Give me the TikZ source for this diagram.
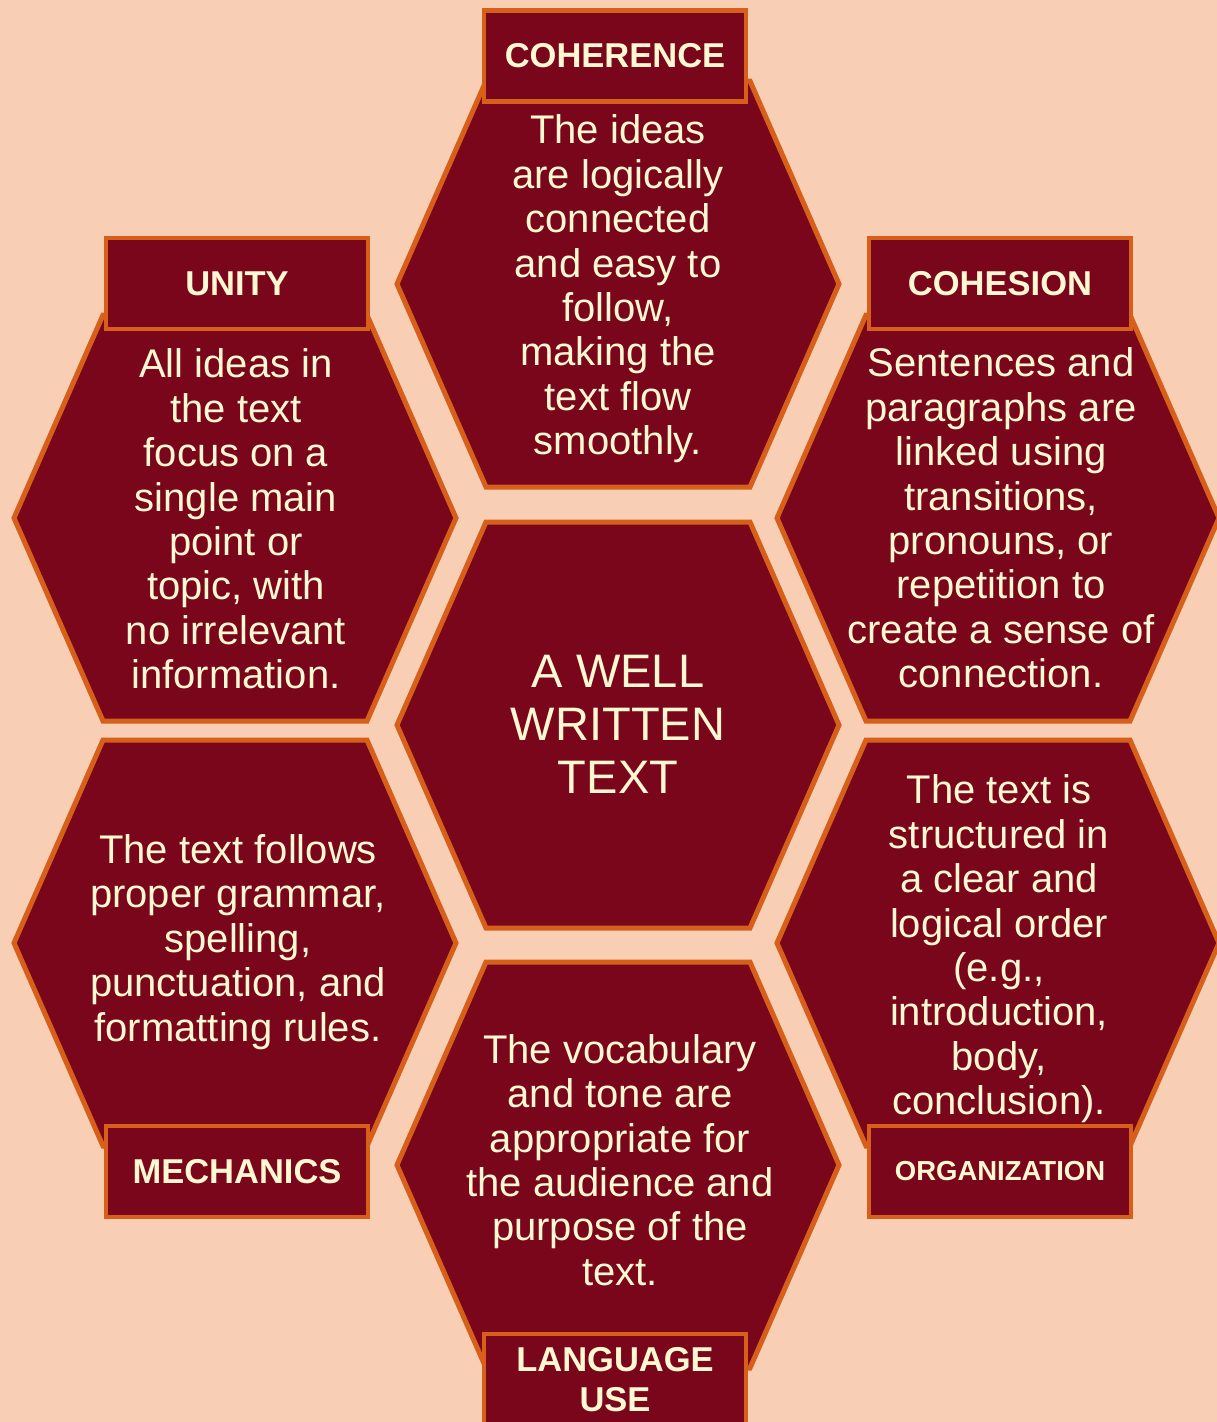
\documentclass[tikz,border=0pt]{standalone}
\usepackage{fontspec}
\setmainfont{Liberation Sans}
\definecolor{peach}{HTML}{F8CEB4}
\definecolor{wine}{HTML}{79061A}
\definecolor{rust}{HTML}{D6601A}
\definecolor{cream}{HTML}{FFF8D2}
\tikzset{
  cell/.style={fill=wine, draw=rust, line width=5pt},
  body/.style={text=cream, align=center, inner sep=0pt,
    font=\fontsize{40}{44.4}\selectfont},
  tag/.style={fill=wine, draw=rust, line width=4.5pt, text=cream,
    minimum width=262pt, minimum height=91pt, inner sep=0pt, align=center,
    font=\bfseries\fontsize{34.5}{40}\selectfont},
}
\begin{document}
\begin{tikzpicture}[x=1pt, y=-1pt]
  \fill[peach] (0,0) rectangle (1217,1422);
  \useasboundingbox (0,0) rectangle (1217,1422);
  % hexagon cells
  \foreach \cx/\cy in {618/284, 235/518, 998/518, 618/725, 235/943, 998/943, 618/1165}
    \draw[cell] (\cx-221,\cy) -- (\cx-132,\cy-203) -- (\cx+132,\cy-203)
      -- (\cx+221,\cy) -- (\cx+132,\cy+203) -- (\cx-132,\cy+203) -- cycle;
  \draw
    (618,289) node[body] (coherence) {The ideas\\are logically\\connected\\and easy to\\follow,\\making the\\text flow\\smoothly.}
    (236,519) node[body] (unity) {All ideas in\\the text\\focus on a\\single main\\point or\\topic, with\\no irrelevant\\information.}
    (1001,518) node[body] (cohesion) {Sentences and\\paragraphs are\\linked using\\transitions,\\pronouns, or\\repetition to\\create a sense of\\connection.}
    (618,724) node[body, font=\fontsize{47}{53}\selectfont] (center) {A WELL\\WRITTEN\\TEXT}
    (238,942) node[body] (mechanics) {The text follows\\proper grammar,\\spelling,\\punctuation, and\\formatting rules.}
    (999,949) node[body] (organization) {The text is\\structured in\\a clear and\\logical order\\(e.g.,\\introduction,\\body,\\conclusion).}
    (620,1160) node[body] (language) {The vocabulary\\and tone are\\appropriate for\\the audience and\\purpose of the\\text.};
  % title tags
  \begin{scope}[every node/.style={tag}]
    \node (coherencetag) at (615,56) {COHERENCE};
    \node (unitytag) at (237,283.5) {UNITY};
    \node (cohesiontag) at (1000,283.5) {COHESION};
    \node (mechanicstag) at (237,1171.5) {MECHANICS};
    \node[font=\bfseries\fontsize{27.5}{32}\selectfont] (organizationtag) at (1000,1171.5) {ORGANIZATION};
    \node (languagetag) at (615,1379.5) {LANGUAGE\\USE};
  \end{scope}
\end{tikzpicture}
\end{document}
